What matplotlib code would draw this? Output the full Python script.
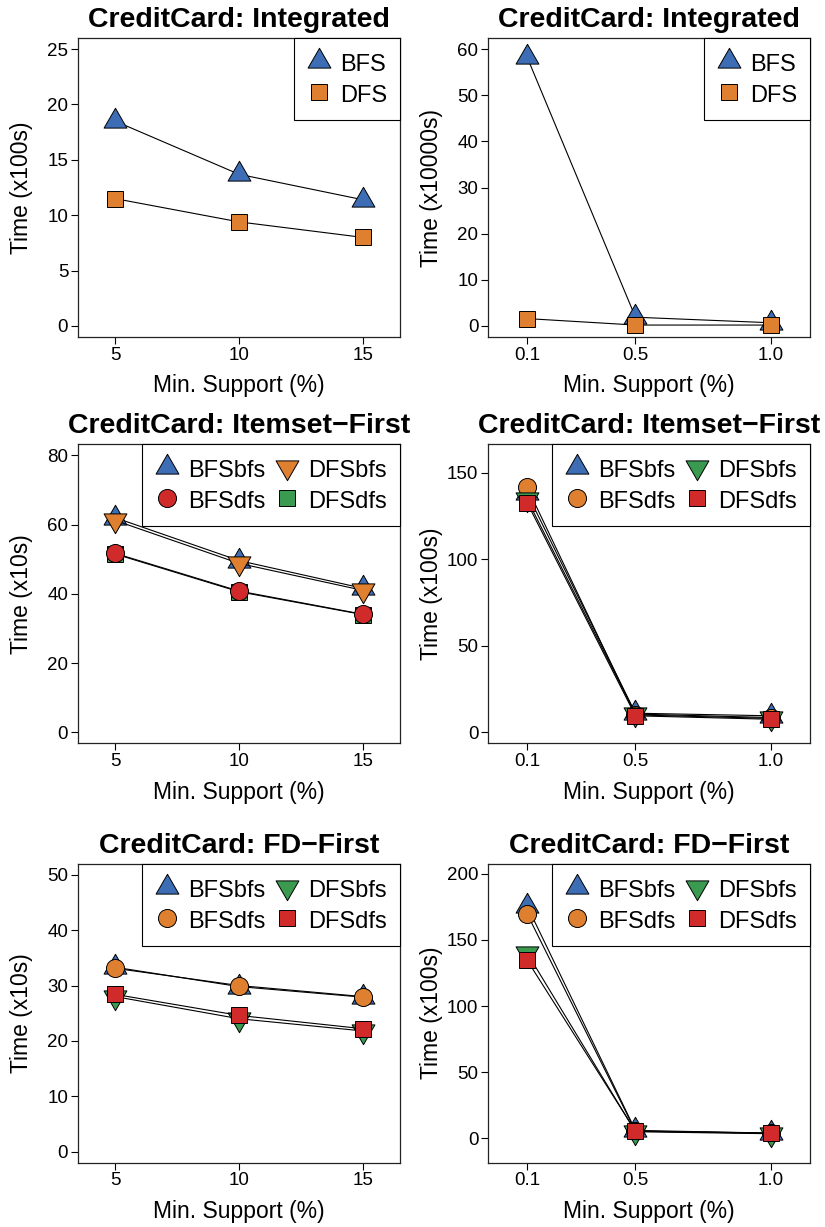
#Six small line charts: run time vs minimum support for the CreditCard data.
#Left column uses supports of 5/10/15 %, right column 0.1/0.5/1.0 %.

import numpy as np
import matplotlib.pyplot as plt
from matplotlib.path import Path


plt.rcParams['font.family'] = ['Liberation Sans', 'DejaVu Sans']


#x values (minimum support, %)
support_high = [5, 10, 15]
support_low = [0.1, 0.5, 1.0]

#Integrated (top row)
integ_bfs_high = [18.5, 13.7, 11.4]
integ_dfs_high = [11.5, 9.4, 8.0]
integ_bfs_low = [58.2, 1.9, 0.7]
integ_dfs_low = [1.6, 0.2, 0.2]

#Itemset-First (middle row)
item_bfsbfs_high = [62.0, 49.6, 41.6]
item_bfsdfs_high = [51.7, 40.8, 34.1]
item_dfsbfs_high = [61.2, 48.8, 41.0]
item_dfsdfs_high = [51.5, 40.6, 34.0]

item_bfsbfs_low = [138.0, 11.0, 9.5]
item_bfsdfs_low = [141.5, 10.0, 8.0]
item_dfsbfs_low = [134.5, 10.5, 8.5]
item_dfsdfs_low = [132.5, 9.5, 7.5]

#FD-First (bottom row)
fd_bfsbfs_high = [33.3, 29.8, 27.9]
fd_bfsdfs_high = [33.1, 30.0, 28.0]
fd_dfsbfs_high = [28.0, 24.0, 21.8]
fd_dfsdfs_high = [28.4, 24.6, 22.2]

fd_bfsbfs_low = [175.5, 6.0, 4.0]
fd_bfsdfs_low = [169.5, 5.5, 3.8]
fd_dfsbfs_low = [140.0, 5.0, 3.5]
fd_dfsdfs_low = [134.5, 5.5, 4.0]


#Colours
blue = '#3D6DB5'
orange = '#DE8030'
red = '#D02A2B'
green = '#3A9A50'


#Equilateral triangles centred on their centroid (like R's pch 24/25)
tri_up = Path([(-1.0, -0.5774), (1.0, -0.5774), (0.0, 1.1547), (-1.0, -0.5774)],
              [Path.MOVETO, Path.LINETO, Path.LINETO, Path.CLOSEPOLY])
tri_down = Path([(-1.0, 0.5774), (1.0, 0.5774), (0.0, -1.1547), (-1.0, 0.5774)],
                [Path.MOVETO, Path.LINETO, Path.LINETO, Path.CLOSEPOLY])

marker_size = {'up': 19, 'down': 19, 'o': 13, 's': 11.5}
marker_path = {'up': tri_up, 'down': tri_down, 'o': 'o', 's': 's'}


def draw_panel(ax, title, x, series, ylim, yticks, xlim, xticks, xticklabels, ylabel, ncol):
    #series: list of (label, values, marker, colour, zorder)
    for label, y, m, c, z in series:
        ax.plot(x, y, '-', color='black', lw=0.8, zorder=z,
                marker=marker_path[m], markersize=marker_size[m],
                markerfacecolor=c, markeredgecolor='black', markeredgewidth=0.7,
                label=label)

    ax.set_xlim(xlim)
    ax.set_ylim(ylim)
    ax.set_xticks(xticks)
    ax.set_xticklabels(xticklabels)
    ax.set_yticks(yticks)

    ax.tick_params(direction='out', length=5, width=0.8, labelsize=13.5, pad=2)
    for sp in ax.spines.values():
        sp.set_linewidth(0.9)
        sp.set_color('#222222')

    ax.set_title(title, fontsize=20.5, fontweight='bold', pad=8)
    ax.set_xlabel('Min. Support (%)', fontsize=16.5)
    ax.set_ylabel(ylabel, fontsize=16.5)
    ax.xaxis.set_label_coords(0.5, -0.125)
    ax.yaxis.set_label_coords(-0.14, 0.5)

    leg = ax.legend(loc='upper right', bbox_to_anchor=(1, 1), borderaxespad=0,
                    ncol=ncol, fontsize=17, fancybox=False, framealpha=1,
                    edgecolor='black', handlelength=1.0, handleheight=1.2,
                    handletextpad=0.4, labelspacing=0.25, columnspacing=0.4,
                    borderpad=0.55)
    leg.get_frame().set_linewidth(0.8)
    #legend shows only the symbols, no line through them
    for h in leg.legend_handles:
        h.set_linestyle('none')


fig = plt.figure(figsize=(8.25, 12.27), dpi=100)

#Axes positions in figure fractions
col_left = [0.0945, 0.5915]
width = 0.3903
height = 0.2437
row_bottom = [0.7253, 0.3942, 0.0524]

high_xlim = (3.5, 16.5)
low_xlim = (-0.045, 1.145)


#Row 1: Integrated
ax = fig.add_axes([col_left[0], row_bottom[0], width, height])
draw_panel(ax, 'CreditCard: Integrated', support_high,
           [('BFS', integ_bfs_high, 'up', blue, 3),
            ('DFS', integ_dfs_high, 's', orange, 3)],
           (-1, 26), [0, 5, 10, 15, 20, 25], high_xlim, support_high,
           ['5', '10', '15'], 'Time (x100s)', 1)

ax = fig.add_axes([col_left[1], row_bottom[0], width, height])
draw_panel(ax, 'CreditCard: Integrated', support_low,
           [('BFS', integ_bfs_low, 'up', blue, 3),
            ('DFS', integ_dfs_low, 's', orange, 4)],
           (-2.4, 62.4), [0, 10, 20, 30, 40, 50, 60], low_xlim, support_low,
           ['0.1', '0.5', '1.0'], 'Time (x10000s)', 1)


#Row 2: Itemset-First
ax = fig.add_axes([col_left[0], row_bottom[1], width, height])
draw_panel(ax, 'CreditCard: Itemset\u2212First', support_high,
           [('BFSbfs', item_bfsbfs_high, 'up', blue, 3),
            ('BFSdfs', item_bfsdfs_high, 'o', red, 6),
            ('DFSbfs', item_dfsbfs_high, 'down', orange, 5),
            ('DFSdfs', item_dfsdfs_high, 's', green, 4)],
           (-3.2, 83.2), [0, 20, 40, 60, 80], high_xlim, support_high,
           ['5', '10', '15'], 'Time (x10s)', 2)

ax = fig.add_axes([col_left[1], row_bottom[1], width, height])
draw_panel(ax, 'CreditCard: Itemset\u2212First', support_low,
           [('BFSbfs', item_bfsbfs_low, 'up', blue, 3),
            ('BFSdfs', item_bfsdfs_low, 'o', orange, 4),
            ('DFSbfs', item_dfsbfs_low, 'down', green, 5),
            ('DFSdfs', item_dfsdfs_low, 's', red, 6)],
           (-6.4, 166.4), [0, 50, 100, 150], low_xlim, support_low,
           ['0.1', '0.5', '1.0'], 'Time (x100s)', 2)


#Row 3: FD-First
ax = fig.add_axes([col_left[0], row_bottom[2], width, height])
draw_panel(ax, 'CreditCard: FD\u2212First', support_high,
           [('BFSbfs', fd_bfsbfs_high, 'up', blue, 3),
            ('BFSdfs', fd_bfsdfs_high, 'o', orange, 4),
            ('DFSbfs', fd_dfsbfs_high, 'down', green, 5),
            ('DFSdfs', fd_dfsdfs_high, 's', red, 6)],
           (-2, 52), [0, 10, 20, 30, 40, 50], high_xlim, support_high,
           ['5', '10', '15'], 'Time (x10s)', 2)

ax = fig.add_axes([col_left[1], row_bottom[2], width, height])
draw_panel(ax, 'CreditCard: FD\u2212First', support_low,
           [('BFSbfs', fd_bfsbfs_low, 'up', blue, 3),
            ('BFSdfs', fd_bfsdfs_low, 'o', orange, 4),
            ('DFSbfs', fd_dfsbfs_low, 'down', green, 5),
            ('DFSdfs', fd_dfsdfs_low, 's', red, 6)],
           (-18.4, 207.6), [0, 50, 100, 150, 200], low_xlim, support_low,
           ['0.1', '0.5', '1.0'], 'Time (x100s)', 2)


#Save the figure
fig.savefig('out.png', dpi=100)
